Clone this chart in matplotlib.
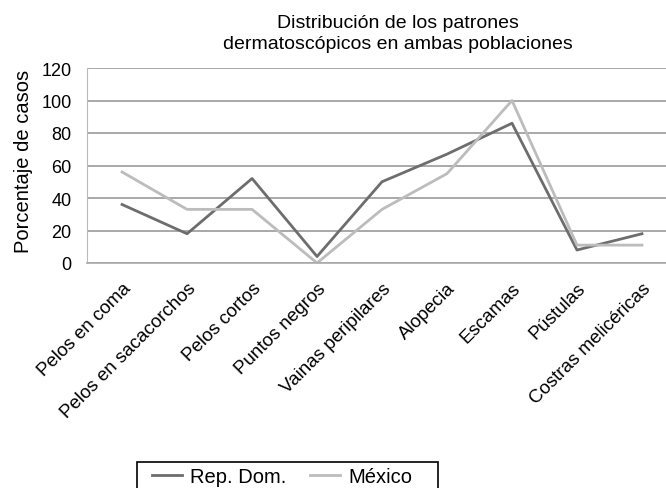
import matplotlib.pyplot as plt
from matplotlib.patches import Rectangle

plt.rcParams['font.family'] = ['Liberation Sans', 'DejaVu Sans']

categories = ['Pelos en coma', 'Pelos en sacacorchos', 'Pelos cortos', 'Puntos negros',
              'Vainas peripilares', 'Alopecia', 'Escamas', 'Pústulas', 'Costras melicéricas']
rep_dom = [36, 18, 52, 4, 50, 67, 86, 8, 18]
mexico = [56, 33, 33, 0, 33, 55, 100, 11, 11]
yticks = [0, 20, 40, 60, 80, 100, 120]

W, H = 666, 489
fig = plt.figure(figsize=(W / 100, H / 100), dpi=100)
ax = fig.add_axes([87 / W, 1 - 264 / H, (W - 87) / W, (264 - 69) / H])

x = range(len(categories))
ax.plot(x, rep_dom, color='#6d6d6d', lw=2, label='Rep. Dom.')
ax.plot(x, mexico, color='#bcbcbc', lw=2, label='México')

ax.set_xlim(-0.54, 8.37)
ax.set_ylim(0, 120)
ax.set_yticks(yticks)
ax.set_yticklabels([str(v) for v in yticks], fontsize=13)
ax.yaxis.grid(True, color='#9a9a9a', lw=1.2)
ax.set_axisbelow(True)
ax.tick_params(axis='y', length=0, pad=11)
for s in ['top', 'right']:
    ax.spines[s].set_visible(False)
ax.spines['left'].set_color('#bbbbbb')
ax.spines['bottom'].set_color('#aaaaaa')
ax.spines['bottom'].set_linewidth(1.2)

ax.set_xticks(list(x))
ax.set_xticklabels(categories, rotation=45, ha='right', rotation_mode='anchor', fontsize=13.5)
ax.tick_params(axis='x', length=0, pad=12)

ax.set_ylabel('Porcentaje de casos', fontsize=14.5)
ax.yaxis.set_label_coords(-0.093, 0.528)

fig.text(0.598, 0.931, 'Distribución de los patrones\ndermatoscópicos en ambas poblaciones',
         ha='center', va='center', fontsize=14, linespacing=1.3)

# legend box drawn separately, Excel leaves extra room on the right
fig.legend(loc='upper left', bbox_to_anchor=(144 / W, 1 - 460 / H), ncol=2,
           frameon=False, fontsize=14.5,
           handlelength=1.5, handletextpad=0.4, columnspacing=1.15, borderpad=0.4,
           borderaxespad=0)
fig.patches.append(Rectangle((137 / W, -0.05), (438 - 137) / W, 0.05 + 1 - 463 / H,
                             transform=fig.transFigure, fill=False, edgecolor='black', lw=1.2))

fig.savefig('out.png', dpi=100)
